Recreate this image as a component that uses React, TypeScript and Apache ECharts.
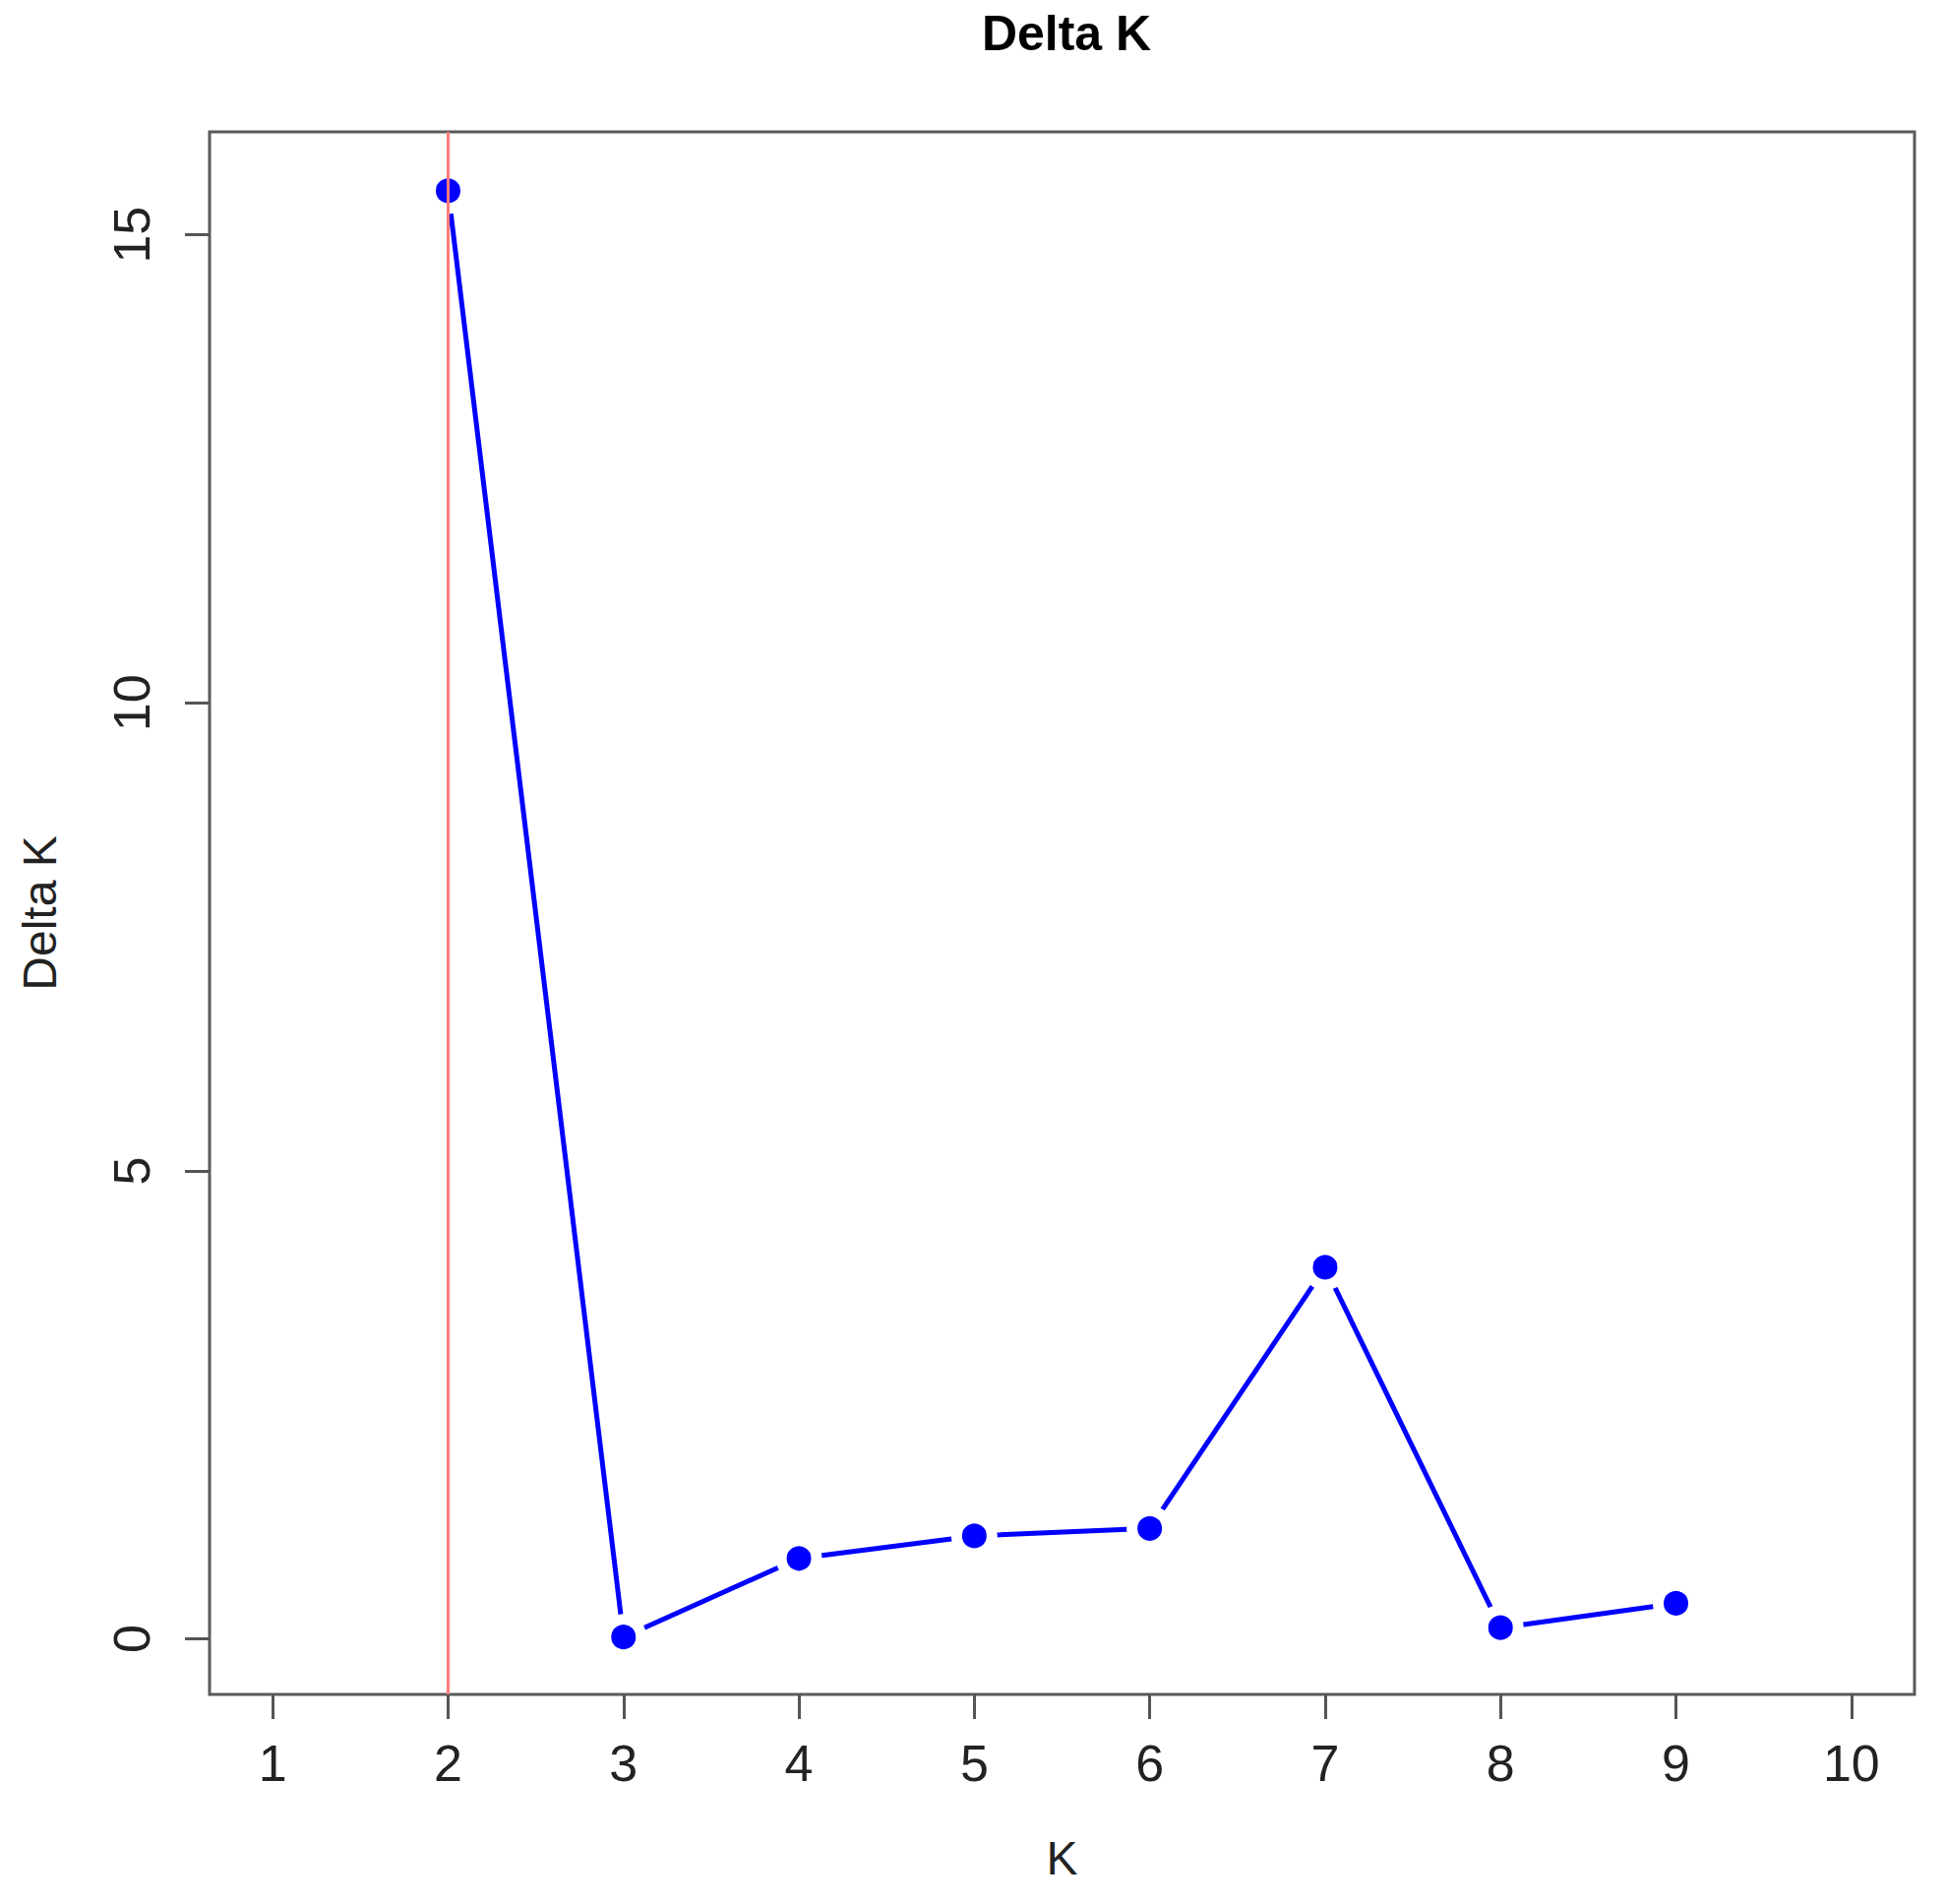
import React, { useEffect, useRef } from "react";
import * as echarts from "echarts";

const kValues = [2, 3, 4, 5, 6, 7, 8, 9];
const deltaK = [15.47, 0.02, 0.86, 1.1, 1.18, 3.97, 0.12, 0.38];
const xTicks = [1, 2, 3, 4, 5, 6, 7, 8, 9, 10];
const yTicks = [0, 5, 10, 15];
const bestK = 2;

export default function App() {
  const ref = useRef<HTMLDivElement>(null);
  useEffect(() => {
    document.body.style.margin = "0";
    const chart = echarts.init(ref.current!, null, { renderer: "svg" });
    const font = "Liberation Sans, Arial, Helvetica, sans-serif";
    chart.setOption({
      animation: false,
      backgroundColor: "#ffffff",
      title: {
        text: "Delta K",
        left: 1079,
        top: 4,
        textAlign: "center",
        textStyle: { fontFamily: font, fontSize: 50, fontWeight: "bold", color: "#000" },
      },
      grid: {
        left: 213,
        right: 31,
        top: 134,
        bottom: 213,
        show: true,
        borderColor: "#5a5a5a",
        borderWidth: 3,
        backgroundColor: "transparent",
      },
      xAxis: {
        type: "value",
        min: 0.64,
        max: 10.36,
        name: "K",
        nameLocation: "middle",
        nameGap: 142,
        nameTextStyle: { fontFamily: font, fontSize: 48, color: "#222" },
        axisLine: { show: false, onZero: false },
        splitLine: { show: false },
        axisTick: { show: true, length: 25, customValues: xTicks, lineStyle: { color: "#555", width: 3 } },
        axisLabel: { customValues: xTicks, fontFamily: font, fontSize: 52, color: "#222", margin: 44 },
      },
      yAxis: {
        type: "value",
        min: -0.593,
        max: 16.1,
        name: "Delta K",
        nameLocation: "middle",
        nameGap: 149,
        nameRotate: 90,
        nameTextStyle: { fontFamily: font, fontSize: 48, color: "#222" },
        axisLine: { show: false, onZero: false },
        splitLine: { show: false },
        axisTick: { show: true, length: 25, customValues: yTicks, lineStyle: { color: "#555", width: 3 } },
        axisLabel: { customValues: yTicks, rotate: 90, fontFamily: font, fontSize: 52, color: "#222", margin: 53 },
      },
      series: [
        {
          type: "line",
          data: kValues.map((k, i) => [k, deltaK[i]]),
          z: 2,
          symbol: "circle",
          symbolSize: 36,
          lineStyle: { color: "#0000ff", width: 5 },
          itemStyle: { color: "#0000ff", borderColor: "#ffffff", borderWidth: 11 },
        },
        {
          type: "line",
          data: [],
          z: 5,
          markLine: {
            silent: true,
            symbol: "none",
            label: { show: false },
            lineStyle: { color: "#ff7a7a", width: 3, type: "solid" },
            data: [{ xAxis: bestK }],
          },
        },
      ],
    });
    return () => chart.dispose();
  }, []);
  return <div ref={ref} style={{ width: 1977, height: 1935 }} />;
}
